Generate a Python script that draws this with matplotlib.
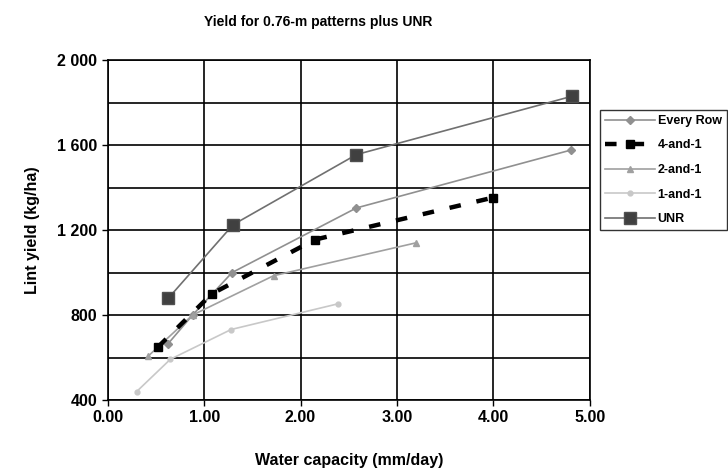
import matplotlib
matplotlib.use('Agg')
import matplotlib.pyplot as plt

plt.rcParams['font.family'] = ['Liberation Sans', 'DejaVu Sans']

# data
every_x = [0.62, 0.88, 1.29, 2.58, 4.81]
every_y = [662, 800, 1000, 1304, 1577]
four_x = [0.52, 1.08, 2.15, 4.00]
four_y = [649, 900, 1155, 1353]
two_x = [0.42, 0.88, 1.72, 3.20]
two_y = [607, 800, 985, 1140]
one_x = [0.30, 0.65, 1.28, 2.39]
one_y = [440, 592, 732, 853]
unr_x = [0.63, 1.30, 2.58, 4.82]
unr_y = [880, 1225, 1555, 1830]

yticks = [400, 800, 1200, 1600, 2000]
ytick_labels = ['400', '800', '1 200', '1 600', '2 000']
xticks = [0, 1, 2, 3, 4, 5]

fig = plt.figure(figsize=(7.28, 4.69), dpi=100)
ax = fig.add_axes([0.148, 0.147, 0.662, 0.725])

ax.plot(every_x, every_y, color='#909090', lw=1.2, marker='D', ms=4,
        label='Every Row', zorder=3)
ax.plot(four_x, four_y, color='black', lw=3.2, ls=(0, (2.6, 3.6)), marker='s', ms=6,
        label='4-and-1', zorder=4)
ax.plot(two_x, two_y, color='#a0a0a0', lw=1.2, marker='^', ms=5,
        label='2-and-1', zorder=3)
ax.plot(one_x, one_y, color='#c8c8c8', lw=1.2, marker='o', ms=3.5,
        label='1-and-1', zorder=3)
ax.plot(unr_x, unr_y, color='#707070', lw=1.2, marker='s', ms=8,
        markerfacecolor='#404040', markeredgecolor='#505050',
        label='UNR', zorder=3)

ax.set_xlim(0, 5)
ax.set_ylim(400, 2000)
ax.set_xticks(xticks)
ax.set_xticklabels(['%.2f' % v for v in xticks], fontsize=11.5, fontweight='bold')
ax.set_yticks(yticks)
ax.set_yticklabels(ytick_labels, fontsize=11.5, fontweight='bold')
ax.set_yticks(range(400, 2001, 200), minor=True)
ax.tick_params(axis='y', which='minor', length=0)
ax.tick_params(direction='out', length=4, width=1)
ax.grid(True, which='both', color='black', lw=1.2)
for s in ax.spines.values():
    s.set_linewidth(1.2)

ax.set_xlabel('Water capacity (mm/day)', fontsize=11.5, fontweight='bold', labelpad=20)
ax.set_ylabel('Lint yield (kg/ha)', fontsize=11.5, fontweight='bold', labelpad=12)
fig.text(318 / 728, 1 - 22 / 469, 'Yield for 0.76-m patterns plus UNR', fontsize=10,
         fontweight='bold', ha='center', va='center')

leg = ax.legend(loc='upper left', bbox_to_anchor=(600 / 728, 1 - 110 / 469),
                bbox_transform=fig.transFigure,
                prop={'weight': 'bold', 'size': 9}, frameon=True, fancybox=False,
                borderaxespad=0, handlelength=4.0, handletextpad=0.2, labelspacing=1.0,
                borderpad=0.4)
leg.get_frame().set_edgecolor('black')
leg.get_frame().set_linewidth(1)

fig.savefig('out.png', dpi=100)
